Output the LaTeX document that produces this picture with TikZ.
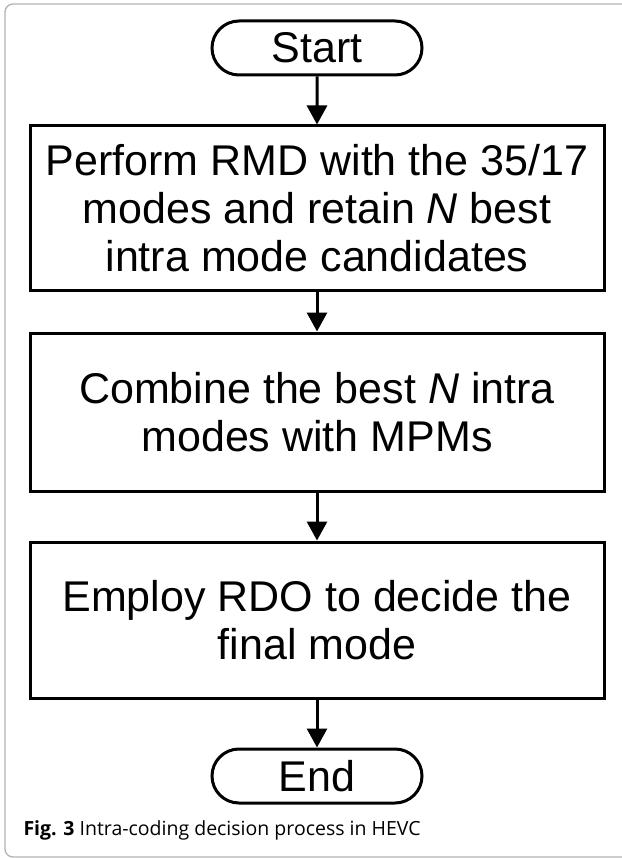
\documentclass[tikz,border=0pt]{standalone}
\usepackage{fontspec}
\setmainfont{Liberation Sans}
\newfontfamily\capfont{Open Sans}
\usetikzlibrary{shapes.misc,arrows.meta}

\begin{document}
\begin{tikzpicture}[x=1pt,y=-1pt,line width=3pt,
  stepbox/.style={draw,minimum width=574pt,align=center,inner sep=0pt,
    font=\fontsize{43}{48}\selectfont},
  term/.style={draw,rounded rectangle,minimum width=210pt,minimum height=54pt,
    inner sep=0pt,font=\fontsize{43}{48}\selectfont},
  flow/.style={-{Triangle[length=19pt,width=20pt]}}]
\useasboundingbox (0,0) rectangle (621,858);

% frame round the figure
\draw [gray!60,line width=1.3pt,rounded corners=8pt] (5,4) rectangle (630,857);

\node [term] (start) at (317,48) {Start};
\node [stepbox,minimum height=164pt] (rmd) at (317,208)
  {Perform RMD with the 35/17\\modes and retain \textit{N} best\\intra mode candidates};
\node [stepbox,minimum height=158pt] (mpm) at (317,412)
  {Combine the best \textit{N} intra\\modes with MPMs};
\node [stepbox,minimum height=156pt] (rdo) at (317,620)
  {Employ RDO to decide the\\final mode};
\node [term] (end) at (317,776) {End};

\draw [flow] (start) -- (rmd);
\draw [flow] (rmd) -- (mpm);
\draw [flow] (mpm) -- (rdo);
\draw [flow] (rdo) -- (end);

\node [anchor=base west,inner sep=0pt,font=\capfont\fontsize{19.5}{22}\selectfont] (cap) at (22,835)
  {\textbf{Fig. 3} Intra-coding decision process in HEVC};
\end{tikzpicture}
\end{document}
